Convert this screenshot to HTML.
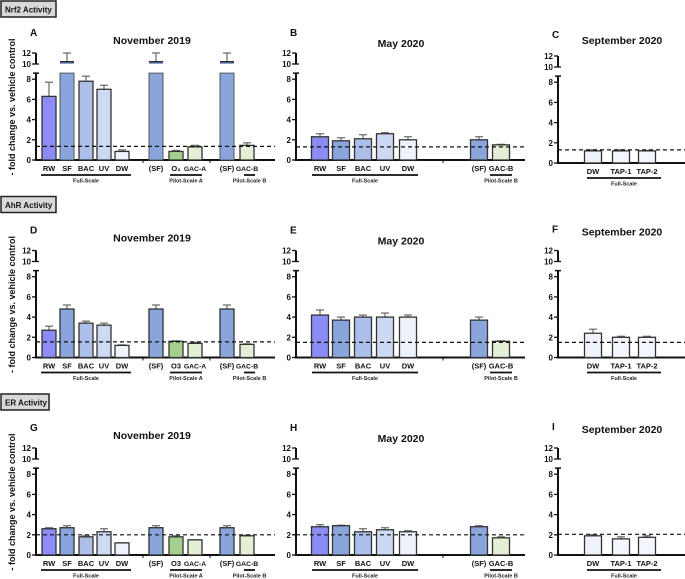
<!DOCTYPE html>
<html><head><meta charset="utf-8">
<style>
body{margin:0;background:#fff;}
svg{display:block;font-family:"Liberation Sans",sans-serif;}
</style></head>
<body>
<svg id="fig" width="685" height="579" viewBox="0 0 685 579"></svg>
<script>
// ---- data ----
const catsFull = ["RW","SF","BAC","UV","DW","(SF)","O3","GAC-A","(SF)","GAC-B"];
const catsMay = ["RW","SF","BAC","UV","DW","(SF)","GAC-B"];
const catsSep = ["DW","TAP-1","TAP-2"];
// Nrf2
const valsA = [6.3,10.4,7.8,7.0,0.85,10.4,0.85,1.3,10.4,1.45];
const errsA = [7.7,12,8.3,7.4,1.0,12,0.95,1.45,12,1.7];
const valsB = [2.3,1.9,2.1,2.6,2.0,2.0,1.5];
const errsB = [2.6,2.2,2.5,2.7,2.3,2.3,1.55];
const valsC = [1.2,1.2,1.2];
const errsC = [1.3,1.3,1.25];
// AhR
const valsD = [2.7,4.8,3.4,3.2,1.2,4.8,1.6,1.4,4.8,1.3];
const errsD = [3.1,5.2,3.6,3.4,1.25,5.2,1.65,1.5,5.2,1.35];
const valsE = [4.2,3.7,4.0,4.0,4.0,3.7,1.6];
const errsE = [4.7,4.0,4.2,4.4,4.2,4.0,1.65];
const valsF = [2.4,2.0,2.0];
const errsF = [2.8,2.1,2.1];
// ER
const valsG = [2.6,2.7,1.8,2.3,1.2,2.7,1.8,1.5,2.7,1.9];
const errsG = [2.7,2.9,1.9,2.6,1.2,2.9,1.9,1.5,2.9,1.95];
const valsH = [2.8,2.9,2.3,2.5,2.3,2.8,1.7];
const errsH = [3.0,2.95,2.6,2.7,2.4,2.9,1.8];
const valsI = [1.9,1.6,1.75];
const errsI = [2.0,1.8,1.9];
const thresholds = [1.35,1.3,1.3, 1.55,1.5,1.5, 2.0,2.0,2.05];
const yTicksLow = [0,2,4,6,8];
const yTicksHigh = [10,12];

// ---- layout ----
const NS="http://www.w3.org/2000/svg";
const svg=document.getElementById('fig');
function mk(tag,attrs,parent,text){const e=document.createElementNS(NS,tag);for(const k in attrs)e.setAttribute(k,attrs[k]);if(text!==undefined)e.textContent=text;(parent||svg).appendChild(e);return e;}
const colors={"RW":"#8c8cf7","SF":"#89a5dc","(SF)":"#89a5dc","BAC":"#abbfe8","UV":"#ccd9f4","DW":"#eef2fb","O3":"#a6cf8f","GAC-A":"#e3f0d7","GAC-B":"#e3f0d7","TAP-1":"#f4f6fd","TAP-2":"#f4f6fd"};
const layouts={
 full:{ax:36,end:275,centers:[49,67,86,104,122,156,176,195,227,247],w:14,title:"November 2019",tcx:152,
   groups:[["Full-Scale",41,131],["Pilot-Scale A",170,202],["Pilot-Scale B",244,255]],ticks:[143,210]},
 may:{ax:296,end:525,centers:[320,341,363,385,408,479,501],w:17,title:"May 2020",tcx:401,
   groups:[["Full-Scale",312,418],["Pilot-Scale B",490,512]],ticks:[443]},
 sep:{ax:558,end:685,centers:[593,621,647],w:17,title:"September 2020",tcx:622,
   groups:[["Full-Scale",587,661]],ticks:[]}
};
const rows=[["Nrf2 Activity",55],["AhR Activity",55],["ER Activity",48]];
const panels=[
 ["A","full",catsFull,valsA,errsA,0],["B","may",catsMay,valsB,errsB,0],["C","sep",catsSep,valsC,errsC,0],
 ["D","full",catsFull,valsD,errsD,1],["E","may",catsMay,valsE,errsE,1],["F","sep",catsSep,valsF,errsF,1],
 ["G","full",catsFull,valsG,errsG,2],["H","may",catsMay,valsH,errsH,2],["I","sep",catsSep,valsI,errsI,2]
];
const LOW=10.1, HIGH=5.5, BREAK=8.6;

rows.forEach((r,i)=>{
  const y0=i*197.5+ (i===0?0:-2);
  const g=mk('g',{});
  
  
  mk('rect',{x:1,y:y0+1,width:r[1],height:16,fill:'#d9d9d9',stroke:'#222','stroke-width':1.5},g);
  mk('text',{x:5,y:y0+12.5,'font-size':8,'font-weight':'bold',fill:'#111'},g,r[0]);
  const Z=160+i*197.5;
  const yl=mk('text',{x:0,y:0,'font-size':9,'font-weight':'bold',fill:'#111','text-anchor':'middle',transform:`translate(15,${Z-53}) rotate(-90)`},svg,"- fold change vs. vehicle control");
  
  
});

panels.forEach((p,pi)=>{
  const [letter,lk,cats,vals,errs,row]=p;
  const L=layouts[lk];
  const Z=160+row*197.5+(lk==='sep'&&row===0?3:0);
  const yLow=v=>Z-v*LOW;
  const yHigh=v=>Z-96-(v-10)*HIGH;
  const y=v=>v<=BREAK?yLow(v):(v>=10?yHigh(v):yLow(BREAK));
  const g=mk('g',{});
  
  
  const tY=Z-116+(lk==='may'?3:(lk==='sep'?-3:0))+(lk==='sep'&&row>0?-3:0);
  mk('text',{x:L.ax-6,y:Z-124+(lk==='sep'?-1:0),'font-size':10,'font-weight':'bold',fill:'#111'},g,letter);
  const tt=mk('text',{x:L.tcx,y:tY,'font-size':10.5,'font-weight':'bold','text-anchor':'middle',fill:'#111'},g,L.title);
  
  
  const ax=L.ax;
  mk('line',{x1:ax,y1:yLow(0)+1,x2:ax,y2:yLow(BREAK),stroke:'#111','stroke-width':2},g);
  mk('line',{x1:ax-3,y1:yLow(BREAK),x2:ax+3,y2:yLow(BREAK),stroke:'#111','stroke-width':1.5},g);
  mk('line',{x1:ax,y1:yHigh(12),x2:ax,y2:yHigh(10),stroke:'#111','stroke-width':2},g);
  yTicksLow.forEach(v=>{mk('line',{x1:ax-4,y1:yLow(v),x2:ax,y2:yLow(v),stroke:'#111','stroke-width':1.3},g);
    mk('text',{x:ax-5,y:yLow(v)+3,'font-size':8,'font-weight':'bold','text-anchor':'end',fill:'#111'},g,String(v));});
  yTicksHigh.forEach(v=>{mk('line',{x1:ax-4,y1:yHigh(v),x2:ax+(v===10?3:0),y2:yHigh(v),stroke:'#111','stroke-width':1.3},g);
    mk('text',{x:ax-5,y:yHigh(v)+3,'font-size':8,'font-weight':'bold','text-anchor':'end',fill:'#111'},g,String(v));});
  mk('line',{x1:ax,y1:Z,x2:L.end,y2:Z,stroke:'#111','stroke-width':2},g);
  L.ticks.forEach(t=>mk('line',{x1:t,y1:Z,x2:t,y2:Z+3,stroke:'#111','stroke-width':1},g));
  cats.forEach((c,i)=>{
    const cx=L.centers[i], w=L.w, v=vals[i], e=errs[i];
    const bg=mk('g',{},g);
    
    
    const col=colors[c];
    if(v>BREAK){
      mk('rect',{x:cx-w/2,y:yLow(BREAK),width:w,height:Z-yLow(BREAK),fill:col,stroke:'#555','stroke-width':1},bg);
      mk('line',{x1:cx,y1:yHigh(v),x2:cx,y2:yHigh(e),stroke:'#666','stroke-width':1.2},bg);
      mk('line',{x1:cx-4,y1:yHigh(e),x2:cx+4,y2:yHigh(e),stroke:'#666','stroke-width':1.2},bg);
      mk('rect',{x:cx-w/2,y:yHigh(v),width:w,height:yHigh(10)-yHigh(v),fill:col},bg);
      mk('line',{x1:cx-w/2,y1:yHigh(v),x2:cx+w/2,y2:yHigh(v),stroke:'#222','stroke-width':1.5},bg);
    } else {
      mk('line',{x1:cx,y1:y(v),x2:cx,y2:y(e),stroke:'#666','stroke-width':1.2},bg);
      mk('line',{x1:cx-4,y1:y(e),x2:cx+4,y2:y(e),stroke:'#666','stroke-width':1.2},bg);
      mk('rect',{x:cx-w/2,y:y(v),width:w,height:Z-y(v),fill:col,stroke:'#333','stroke-width':1.3},bg);
    }
    const lbl=(c==='O3'&&letter==='A')?'O₃':c;
    const fs=(lk==='full'&&c.length>4)?6.8:7.5;
    mk('text',{x:cx,y:Z+11,'font-size':fs,'font-weight':'bold','text-anchor':'middle',fill:'#111'},g,lbl);
  });
  const th=mk('line',{x1:ax,y1:yLow(thresholds[pi]),x2:L.end,y2:yLow(thresholds[pi]),stroke:'#111','stroke-width':1.2,'stroke-dasharray':'4,3'},g);
  
  
  L.groups.forEach(gr=>{
    mk('line',{x1:gr[1],y1:Z+15,x2:gr[2],y2:Z+15,stroke:'#111','stroke-width':1.8},g);
    mk('text',{x:(gr[1]+gr[2])/2,y:Z+22.5,'font-size':5.5,'font-weight':'bold','text-anchor':'middle',fill:'#222'},g,gr[0]);
  });
});
</script>
</body></html>
